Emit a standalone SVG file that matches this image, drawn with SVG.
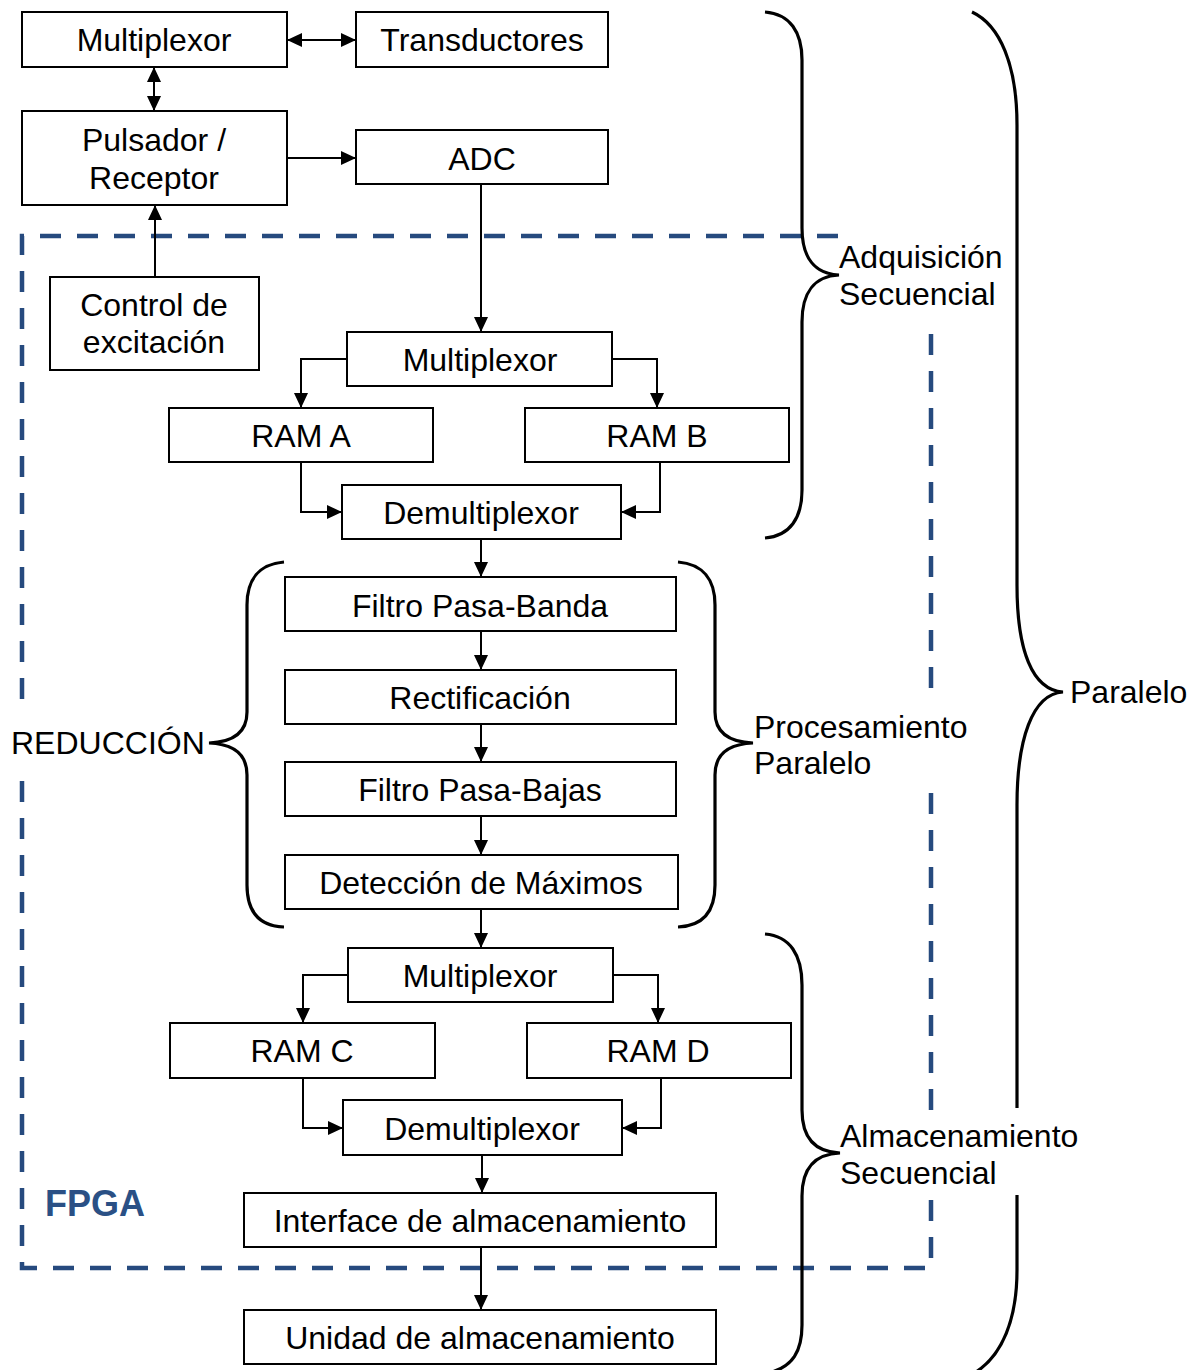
<svg xmlns="http://www.w3.org/2000/svg" width="1198" height="1370" viewBox="0 0 1198 1370">
<style>
.box{fill:#fff;stroke:#000;stroke-width:2}
.t{font-family:"Liberation Sans",Arial,sans-serif;font-size:32px;fill:#000;text-anchor:middle}
.lbl{font-family:"Liberation Sans",Arial,sans-serif;font-size:32px;fill:#000}
.c{fill:none;stroke:#000;stroke-width:2}
.br{fill:none;stroke:#000;stroke-width:3.2}
.dash{fill:none;stroke:#264A7E;stroke-width:4.5;stroke-dasharray:21 16}
</style>
<defs>
<marker id="a" markerUnits="userSpaceOnUse" markerWidth="15" markerHeight="14" refX="15" refY="7" orient="auto-start-reverse">
<path d="M0,0 L15,7 L0,14 z" fill="#000"/>
</marker>
</defs>

<g id="fpga-frame">
<path class="dash" d="M838,236 H22 V715 M22,781 V1268 H931 V1195 M931,1110 V793 M931,688 V333"/>
<text x="45" y="1216" style="font-family:'Liberation Sans',Arial,sans-serif;font-size:36px;font-weight:bold;fill:#2A5085">FPGA</text>
</g>

<g id="connectors">
<path class="c" d="M287,40 H356" marker-start="url(#a)" marker-end="url(#a)"/>
<path class="c" d="M154,67 V111" marker-start="url(#a)" marker-end="url(#a)"/>
<path class="c" d="M287,158 H356" marker-end="url(#a)"/>
<path class="c" d="M155,277 V205" marker-end="url(#a)"/>
<path class="c" d="M481,184 V332" marker-end="url(#a)"/>
<path class="c" d="M347,359 H301 V408" marker-end="url(#a)"/>
<path class="c" d="M612,359 H657 V408" marker-end="url(#a)"/>
<path class="c" d="M301,462 V512 H342" marker-end="url(#a)"/>
<path class="c" d="M660,462 V512 H621" marker-end="url(#a)"/>
<path class="c" d="M481,539 V577" marker-end="url(#a)"/>
<path class="c" d="M481,631 V670" marker-end="url(#a)"/>
<path class="c" d="M481,724 V762" marker-end="url(#a)"/>
<path class="c" d="M481,816 V855" marker-end="url(#a)"/>
<path class="c" d="M481,909 V948" marker-end="url(#a)"/>
<path class="c" d="M348,975 H303 V1023" marker-end="url(#a)"/>
<path class="c" d="M613,975 H658 V1023" marker-end="url(#a)"/>
<path class="c" d="M303,1078 V1128 H343" marker-end="url(#a)"/>
<path class="c" d="M661,1078 V1128 H622" marker-end="url(#a)"/>
<path class="c" d="M482,1155 V1193" marker-end="url(#a)"/>
<path class="c" d="M481,1247 V1310" marker-end="url(#a)"/>
</g>

<g id="n-mux1"><rect class="box" x="22" y="12" width="265" height="55"/><text class="t" x="154" y="51">Multiplexor</text></g>
<g id="n-trans"><rect class="box" x="356" y="12" width="252" height="55"/><text class="t" x="482" y="51">Transductores</text></g>
<g id="n-pulsador"><rect class="box" x="22" y="111" width="265" height="94"/><text class="t" x="154" y="151">Pulsador /</text><text class="t" x="154" y="189">Receptor</text></g>
<g id="n-adc"><rect class="box" x="356" y="130" width="252" height="54"/><text class="t" x="482" y="170">ADC</text></g>
<g id="n-control"><rect class="box" x="50" y="277" width="209" height="93"/><text class="t" x="154" y="316">Control de</text><text class="t" x="154" y="353">excitación</text></g>
<g id="n-mux2"><rect class="box" x="347" y="332" width="265" height="54"/><text class="t" x="480" y="371">Multiplexor</text></g>
<g id="n-rama"><rect class="box" x="169" y="408" width="264" height="54"/><text class="t" x="301" y="447">RAM A</text></g>
<g id="n-ramb"><rect class="box" x="525" y="408" width="264" height="54"/><text class="t" x="657" y="447">RAM B</text></g>
<g id="n-demux1"><rect class="box" x="342" y="485" width="279" height="54"/><text class="t" x="481" y="524">Demultiplexor</text></g>
<g id="n-fpb"><rect class="box" x="285" y="577" width="391" height="54"/><text class="t" x="480" y="617">Filtro Pasa-Banda</text></g>
<g id="n-rect"><rect class="box" x="285" y="670" width="391" height="54"/><text class="t" x="480" y="709">Rectificación</text></g>
<g id="n-fpbaj"><rect class="box" x="285" y="762" width="391" height="54"/><text class="t" x="480" y="801">Filtro Pasa-Bajas</text></g>
<g id="n-det"><rect class="box" x="285" y="855" width="393" height="54"/><text class="t" x="481" y="894">Detección de Máximos</text></g>
<g id="n-mux3"><rect class="box" x="348" y="948" width="265" height="54"/><text class="t" x="480" y="987">Multiplexor</text></g>
<g id="n-ramc"><rect class="box" x="170" y="1023" width="265" height="55"/><text class="t" x="302" y="1062">RAM C</text></g>
<g id="n-ramd"><rect class="box" x="527" y="1023" width="264" height="55"/><text class="t" x="658" y="1062">RAM D</text></g>
<g id="n-demux2"><rect class="box" x="343" y="1100" width="279" height="55"/><text class="t" x="482" y="1140">Demultiplexor</text></g>
<g id="n-iface"><rect class="box" x="244" y="1193" width="472" height="54"/><text class="t" x="480" y="1232">Interface de almacenamiento</text></g>
<g id="n-unidad"><rect class="box" x="244" y="1310" width="472" height="54"/><text class="t" x="480" y="1349">Unidad de almacenamiento</text></g>

<g id="braces">
<path class="br" d="M765,12 C790,14 802,32 802,60 V228 C802,258 815,274 839,275 C815,276 802,292 802,322 V490 C802,518 790,536 765,538"/>
<path class="br" d="M972,12 C1000,25 1017,65 1017,125 V585 C1017,650 1032,690 1063,692 C1032,694 1017,740 1017,805 V1108 M1017,1195 V1270 C1017,1320 1002,1355 976,1372"/>
<path class="br" d="M678,562 C703,564 715,580 715,605 V712 C715,732 728,742 753,743 C728,744 715,754 715,775 V885 C715,912 703,926 678,927"/>
<path class="br" d="M284,562 C259,564 247,580 247,605 V712 C247,732 234,742 209,743 C234,744 247,754 247,775 V885 C247,912 259,926 284,927"/>
<path class="br" d="M765,934 C790,936 802,955 802,985 V1110 C802,1138 815,1152 840,1153 C815,1154 802,1168 802,1196 V1325 C802,1352 792,1366 772,1372"/>
</g>

<g id="labels">
<text class="lbl" x="839" y="268">Adquisición</text>
<text class="lbl" x="839" y="305">Secuencial</text>
<text class="lbl" x="1070" y="703">Paralelo</text>
<text class="lbl" x="754" y="738">Procesamiento</text>
<text class="lbl" x="754" y="774">Paralelo</text>
<text class="lbl" x="11" y="754">REDUCCIÓN</text>
<text class="lbl" x="840" y="1147">Almacenamiento</text>
<text class="lbl" x="840" y="1184">Secuencial</text>
</g>
</svg>
